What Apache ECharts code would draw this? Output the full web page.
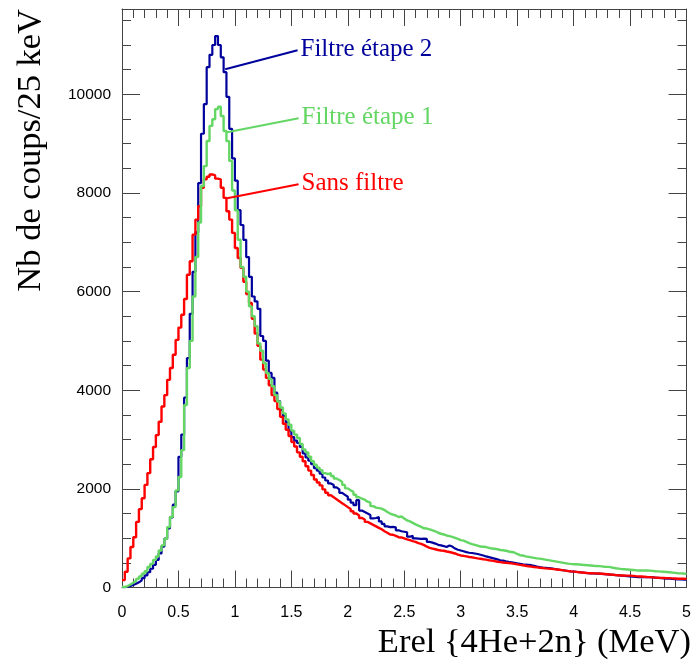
<!DOCTYPE html>
<html>
<head>
<meta charset="utf-8">
<script src="https://cdn.jsdelivr.net/npm/echarts@6/dist/echarts.min.js"></script>
<style>html,body{margin:0;padding:0;background:#fff}#c{width:694px;height:662px}</style>
</head>
<body>
<div id="c"></div>
<script>
// Histogram: 200 bins of 25 keV from 0 to 5 MeV
const binWidth = 0.025;
const xTickLabels = ['0','0.5','1','1.5','2','2.5','3','3.5','4','4.5','5'];
const yTickLabels = ['0','2000','4000','6000','8000','10000'];

const sansFiltre = [
150,320,590,820,1020,1330,1590,1810,2080,2320,
2600,2850,3090,3360,3670,3900,4210,4450,4720,5020,
5270,5530,5850,6340,6615,7155,7460,7730,8105,8275,
8330,8375,8355,8290,8275,8105,7900,7630,7460,7190,
6885,6680,6480,6200,5950,5770,5450,5150,4900,4620,
4420,4250,4100,3900,3780,3620,3460,3320,3200,3070,
2950,2860,2740,2650,2560,2460,2370,2280,2190,2130,
2070,1990,1920,1870,1830,1790,1750,1710,1670,1630,
1590,1545,1500,1460,1410,1380,1330,1300,1270,1240,
1210,1180,1140,1110,1075,1070,1045,1020,1015,995,
975,960,940,925,900,885,860,830,805,790,
775,760,750,745,730,720,705,690,665,650,
640,630,618,612,600,590,582,572,565,553,
545,535,522,515,508,502,497,490,480,470,
460,450,440,432,424,415,408,400,395,388,
383,378,372,366,360,352,343,335,328,322,
316,310,305,298,292,290,288,287,285,280,
275,270,263,258,252,247,244,242,241,240,
235,230,226,222,218,213,210,205,200,197,
195,193,191,190,186,182,178,177,176,175
];

const filtreEtape1 = [
10,30,60,95,130,175,225,280,330,415,
480,560,630,750,855,990,1225,1430,1630,1970,
2240,2785,3700,4450,5000,5900,6700,7400,8140,8545,
9055,9360,9495,9700,9750,9560,9255,9050,8650,8050,
7650,7050,6500,6300,6000,5700,5500,5300,4950,4800,
4550,4350,4230,4080,3900,3770,3650,3530,3410,3300,
3180,3100,3030,2910,2800,2740,2650,2560,2490,2430,
2380,2320,2300,2320,2260,2210,2180,2140,2080,2010,
1970,1940,1880,1830,1800,1780,1740,1720,1650,1620,
1610,1600,1570,1530,1500,1480,1460,1430,1440,1400,
1360,1340,1310,1280,1255,1230,1200,1195,1180,1160,
1140,1110,1090,1075,1055,1040,1025,1005,985,960,
950,925,900,880,865,850,830,825,820,805,
790,785,775,760,755,745,730,720,710,680,
655,650,630,620,610,600,590,585,575,565,
555,545,535,525,515,505,495,485,478,472,
470,467,460,455,450,445,440,437,433,428,
422,418,412,400,390,382,375,370,365,360,
355,350,346,345,345,344,343,337,330,326,
322,318,313,308,302,296,290,287,283,280
];

const filtreEtape2 = [
5,15,30,50,75,105,145,190,245,310,
380,460,560,690,830,990,1200,1420,1680,1950,
2650,3100,3850,4650,5550,6400,7200,8200,9200,9800,
10550,10800,11000,11180,11000,10750,10450,9950,9300,8700,
8250,7650,7350,7050,6700,6300,5900,5800,5650,5100,
5000,4600,4350,4250,3950,3780,3600,3480,3350,3180,
3050,2980,2930,2850,2720,2640,2570,2500,2420,2370,
2310,2230,2170,2110,2080,2030,1990,1920,1880,1840,
1780,1720,1670,1770,1560,1530,1500,1470,1400,1410,
1430,1340,1290,1240,1225,1230,1220,1160,1140,1130,
1120,1030,1050,995,990,985,990,985,925,910,
890,865,855,840,820,850,830,790,765,750,
735,718,705,700,690,680,665,650,630,615,
600,585,570,553,545,530,520,512,500,488,
480,470,462,458,452,440,425,413,405,400,
395,390,380,370,360,352,345,335,328,322,
315,310,304,298,292,288,285,283,280,276,
272,268,263,257,251,246,240,235,230,224,
219,214,211,210,210,210,209,205,200,196,
192,186,181,177,172,168,164,162,160,157
];

// Annotation pointers: [curve point, label anchor] in data units
const annotEtape2 = [[0.914, 10507], [1.555, 10892]];
const annotEtape1 = [[0.931, 9230], [1.564, 9513]];
const annotSans   = [[0.931, 7893], [1.564, 8176]];

const colBlue = '#00009c', colGreen = '#64d664', colRed = '#ff0000';
const yMax = 11730;

function histData(vals) {
  const d = vals.map((v, i) => [i * binWidth, v]);
  d.push([vals.length * binWidth, vals[vals.length - 1]]);
  return d;
}

function annot(pts, text, color) {
  return {
    silent: true, symbol: ['none', 'none'], animation: false,
    lineStyle: { color: color, width: 2, type: 'solid' },
    label: { show: true, position: 'end', formatter: text, color: color,
             fontFamily: 'Liberation Serif', fontSize: 25, distance: 3 },
    emphasis: { disabled: true },
    data: [[{ coord: pts[0] }, { coord: pts[1] }]]
  };
}

const axisCol = '#444';
function xAx(pos, labels) {
  return {
    type: 'value', position: pos, min: 0, max: 5, interval: 0.5,
    axisLine: { show: true, onZero: false, lineStyle: { color: axisCol, width: 1 } },
    axisTick: { show: true, inside: true, length: 17, lineStyle: { color: axisCol } },
    minorTick: { show: true, splitNumber: 5, length: 9, lineStyle: { color: axisCol } },
    splitLine: { show: false }, minorSplitLine: { show: false },
    axisLabel: labels ? {
      show: true, margin: 17, color: '#000', fontFamily: 'Liberation Sans', fontSize: 16,
      formatter: v => xTickLabels[Math.round(v / 0.5)]
    } : { show: false }
  };
}
function yAx(pos, interval, len, labels, line) {
  return {
    type: 'value', position: pos, min: 0, max: yMax, interval: interval,
    axisLine: { show: line, onZero: false, lineStyle: { color: axisCol, width: 1 } },
    axisTick: { show: true, inside: true, length: len, lineStyle: { color: axisCol } },
    splitLine: { show: false },
    axisLabel: labels ? {
      show: true, margin: 11, color: '#000', fontFamily: 'Liberation Sans', fontSize: 15.5,
      showMaxLabel: false,
      formatter: v => yTickLabels[Math.round(v / 2000)] || ''
    } : { show: false }
  };
}

const chart = echarts.init(document.getElementById('c'), null, { renderer: 'canvas', width: 694, height: 662 });
chart.setOption({
  backgroundColor: '#ffffff',
  animation: false,
  grid: { left: 122, right: 3, top: 9, bottom: 74.5, containLabel: false },
  xAxis: [xAx('bottom', true), xAx('top', false)],
  yAxis: [yAx('left', 2000, 18, true, true), yAx('left', 500, 9, false, false),
          yAx('right', 2000, 18, false, true), yAx('right', 500, 9, false, false)],
  series: [
    { name: 'Filtre étape 2', type: 'line', step: 'end', showSymbol: false, symbol: 'none',
      data: histData(filtreEtape2), lineStyle: { color: colBlue, width: 2.2 }, itemStyle: { color: colBlue },
      markLine: annot(annotEtape2, 'Filtre étape 2', colBlue), z: 2 },
    { name: 'Sans filtre', type: 'line', step: 'end', showSymbol: false, symbol: 'none',
      data: histData(sansFiltre), lineStyle: { color: colRed, width: 2.4 }, itemStyle: { color: colRed },
      markLine: annot(annotSans, 'Sans filtre', colRed), z: 3 },
    { name: 'Filtre étape 1', type: 'line', step: 'end', showSymbol: false, symbol: 'none',
      data: histData(filtreEtape1), lineStyle: { color: colGreen, width: 2.4 }, itemStyle: { color: colGreen },
      markLine: annot(annotEtape1, 'Filtre étape 1', colGreen), z: 4 }
  ],
  graphic: [
    { type: 'text', x: 691, y: 643, silent: true,
      style: { text: 'Erel {4He+2n} (MeV)', align: 'right', verticalAlign: 'middle',
               font: '34.5px "Liberation Serif"', fill: '#000' } },
    { type: 'text', x: 31, y: 9, rotation: Math.PI / 2, silent: true,
      style: { text: 'Nb de coups/25 keV', align: 'right', verticalAlign: 'middle',
               font: '34.5px "Liberation Serif"', fill: '#000' } }
  ]
});
</script>
</body>
</html>
